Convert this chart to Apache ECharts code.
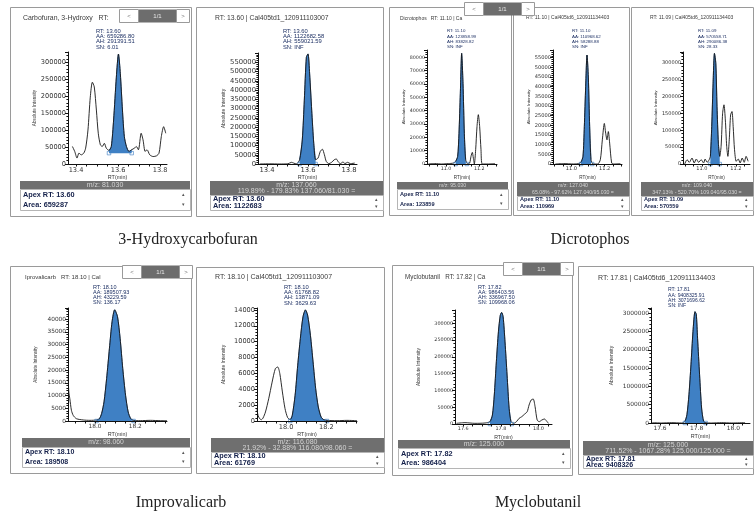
<!DOCTYPE html>
<html><head><meta charset="utf-8">
<script src="https://cdn.jsdelivr.net/npm/echarts@6/dist/echarts.min.js"></script>
<style>html,body{margin:0;padding:0;background:#fff}#c{width:754px;height:517px}</style>
</head><body><div id="c"></div>
<script>
// ---------- DATA ----------
const captions = ['3-Hydroxycarbofuran', 'Dicrotophos', 'Improvalicarb', 'Myclobutanil'];

const p1Time = [13.383,13.394,13.405,13.414,13.425,13.437,13.446,13.457,13.468,13.478,13.487,13.497,13.506,13.516,13.525,13.535,13.544,13.557,13.568,13.579,13.592,13.602,13.611,13.621,13.630,13.640,13.652,13.665,13.678,13.687,13.697,13.710,13.719,13.729,13.738,13.751,13.767,13.783,13.795,13.806,13.817,13.827];
const p1Int = [51600,37000,17500,32000,27000,32000,46700,100000,197000,241000,227000,159000,90600,56500,51600,61000,46700,40000,51600,129600,256000,324000,266000,159000,81000,51600,37000,42000,46700,51600,42000,90600,71000,37000,42000,27000,22000,24000,32000,81000,110000,90600];

const p2Time = [13.364,13.413,13.462,13.502,13.519,13.530,13.543,13.559,13.572,13.582,13.592,13.600,13.608,13.618,13.628,13.637,13.649,13.660,13.670,13.680,13.689,13.702,13.715,13.728,13.738,13.748,13.758,13.771,13.780,13.793,13.807,13.828];
const p2Int = [0,1000,0,1000,9000,5000,0,23000,130000,345000,577000,595000,487000,291000,112000,23000,32000,68000,80000,50000,14000,2000,9000,23000,27000,11000,2000,11000,2000,9000,2000,5000];

const p3Time = [10.894,10.934,10.974,11.014,11.044,11.058,11.070,11.078,11.086,11.094,11.102,11.110,11.118,11.130,11.142,11.150,11.158,11.164,11.170,11.178,11.186,11.194,11.202,11.210,11.218,11.254,11.294];
const p3Int = [0,300,0,300,700,2000,5700,23000,53000,83000,60500,23000,3200,0,700,5700,8700,4500,0,10700,28000,37000,28000,10700,0,0,300];

const p4Time = [10.904,10.954,11.014,11.044,11.058,11.070,11.078,11.086,11.094,11.102,11.110,11.118,11.130,11.158,11.174,11.186,11.198,11.206,11.214,11.222,11.230,11.242,11.254,11.294];
const p4Int = [0,200,0,200,900,4000,19400,40000,56400,45000,19400,2200,0,0,2200,12500,21000,16000,12500,16800,10800,500,0,200];

const p5Time = [10.899,10.913,10.926,10.942,10.955,10.967,10.981,10.996,11.010,11.019,11.031,11.043,11.050,11.058,11.066,11.074,11.082,11.089,11.097,11.105,11.113,11.122,11.130,11.138,11.146,11.153,11.161,11.169,11.177,11.184,11.192,11.202,11.214,11.225,11.237,11.249,11.260,11.272];
const p5Int = [0,12800,5000,17800,3000,14800,5000,12800,3000,14800,5000,12800,22700,111600,240000,329000,299000,171000,62000,22700,52000,151000,176000,131000,52000,22700,72000,146000,156000,111600,42500,8000,14800,3000,17800,5000,22700,8000];

const p6Time = [17.867,17.870,17.875,17.883,17.892,17.908,17.942,17.975,18.008,18.022,18.033,18.045,18.058,18.072,18.085,18.098,18.112,18.125,18.138,18.152,18.165,18.178,18.192,18.225,18.275,18.325,18.358];
const p6Int = [17400,11450,8800,4200,2200,900,400,260,400,900,2900,7500,16700,28600,39000,43700,41000,32500,20700,10100,3550,900,260,130,260,130,130];

const p7Time = [17.856,17.861,17.869,17.878,17.886,17.898,17.914,17.931,17.947,17.959,17.969,17.982,17.995,18.008,18.021,18.031,18.045,18.058,18.071,18.084,18.096,18.107,18.121,18.134,18.147,18.160,18.174,18.187,18.203,18.253,18.302,18.352];
const p7Int = [1470,720,300,170,380,1140,2800,4900,6600,6800,6000,3660,1560,420,170,720,3240,7030,10400,13100,14000,13350,10800,7450,4080,1770,500,170,80,40,80,40];

const p8Time = [17.564,17.609,17.662,17.716,17.742,17.755,17.765,17.776,17.787,17.797,17.804,17.812,17.822,17.833,17.844,17.854,17.868,17.883,17.897,17.911,17.925,17.940,17.950,17.961,17.972,17.982,17.993,18.004,18.018,18.032,18.043,18.053];
const p8Int = [2000,4000,2000,3000,7000,26800,86400,185700,275000,324700,332700,319700,245000,146000,46700,7000,2000,7000,16900,21800,28800,36700,56600,71500,74500,51600,11900,7000,11900,14900,8900,2000];

const p9Time = [17.558,17.609,17.664,17.718,17.736,17.747,17.758,17.769,17.780,17.791,17.798,17.805,17.816,17.827,17.838,17.849,17.882,17.936,17.991,18.064];
const p9Int = [9000,0,9000,0,45000,227000,773000,1591000,2500000,3045000,2973000,2318000,1318000,409000,45000,9000,0,9000,0,9000];

// peak integration windows [start, end, baseline]
const peakWindows = [[13.557,13.665,32000],[13.559,13.637,0],[11.058,11.125,0],[11.058,11.125,0],[11.050,11.105,0],[18.008,18.192,0],[18.021,18.203,0],[17.742,17.858,0],[17.736,17.849,0]];

const titles = ['Carbofuran, 3-Hydroxy   RT:', 'RT: 13.60 | Cal405td1_120911103007', 'Dicrotophos   RT: 11.10 | Ca', 'RT: 11.10 | Cal405td6_120911134403', 'RT: 11.09 | Cal405td6_120911134403', 'Iprovalicarb   RT: 18.10 | Cal', 'RT: 18.10 | Cal405td1_120911103007', 'Myclobutanil   RT: 17.82 | Ca', 'RT: 17.81 | Cal405td6_120911134403'];
const annotations = [
  ['RT: 13.60','AA: 659286.80','AH: 291391.51','SN: 6.01'],
  ['RT: 13.60','AA: 1122682.58','AH: 559021.59','SN: INF'],
  ['RT: 11.10','AA: 123858.99','AH: 83828.82','SN: INF'],
  ['RT: 11.10','AA: 110968.62','AH: 58288.88','SN: INF'],
  ['RT: 11.09','AA: 570558.71','AH: 290086.38','SN: 28.33'],
  ['RT: 18.10','AA: 189507.93','AH: 43229.59','SN: 136.17'],
  ['RT: 18.10','AA: 61768.82','AH: 13871.09','SN: 3629.63'],
  ['RT: 17.82','AA: 986403.56','AH: 336967.50','SN: 109968.06'],
  ['RT: 17.81','AA: 9408325.91','AH: 3071696.62','SN: INF']
];
const mzLabels = [
  ['m/z: 81.030'],
  ['m/z: 137.060','119.89% - 179.83% 137.060/81.030 ='],
  ['m/z: 95.030'],
  ['m/z: 127.040','65.08% - 97.62% 127.040/95.030 ='],
  ['m/z: 109.040','347.13% - 520.70% 109.040/95.030 ='],
  ['m/z: 98.060'],
  ['m/z: 116.080','21.92% - 32.88% 116.080/98.060 ='],
  ['m/z: 125.000'],
  ['m/z: 125.000','711.52% - 1067.28% 125.000/125.000 =']
];
const footers = [
  ['Apex RT: 13.60','Area: 659287'],
  ['Apex RT: 13.60','Area: 1122683'],
  ['Apex RT: 11.10','Area: 123859'],
  ['Apex RT: 11.10','Area: 110969'],
  ['Apex RT: 11.09','Area: 570559'],
  ['Apex RT: 18.10','Area: 189508'],
  ['Apex RT: 18.10','Area: 61769'],
  ['Apex RT: 17.82','Area: 986404'],
  ['Apex RT: 17.81','Area: 9408326']
];
const xTickLabels = [[13.4,13.6,13.8],[13.4,13.6,13.8],[11.0,11.2],[11.0,11.2],[11.0,11.2],[18.0,18.2],[18.0,18.2],[17.6,17.8,18.0],[17.6,17.8,18.0]];
const yTickStep = [50000,50000,10000,5000,50000,5000,2000,50000,500000];

const traces = [[p1Time,p1Int],[p2Time,p2Int],[p3Time,p3Int],[p4Time,p4Int],[p5Time,p5Int],[p6Time,p6Int],[p7Time,p7Int],[p8Time,p8Int],[p9Time,p9Int]];

// ---------- LAYOUT (pixels) ----------
const layout = [
  {L:68,R:167,T:52,B:164, xmin:13.362,xmax:13.833, ymax:330000, ygap:30, frame:[10,7,181,209], title:[23,18], ann:[96,31], mz:[20,181,170,8], foot:[20,189,170,21]},
  {L:258,R:357,T:53,B:164, xmin:13.356,xmax:13.839, ymax:600000, ygap:30, frame:[196,7,187,209], title:[215,18], ann:[283,31], mz:[210,181,173,14], foot:[210,195,173,15]},
  {L:427,R:497,T:50,B:164, xmin:10.886,xmax:11.306, ymax:85500, ygap:19, frame:[389,7,122,208], title:[400,19], ann:[447,31], mz:[397,182,111,7], foot:[397,189,111,20]},
  {L:553,R:622,T:50,B:164, xmin:10.890,xmax:11.304, ymax:59000, ygap:19, frame:[513,7,116,208], title:[526,18], ann:[572,31], mz:[517,182,112,14], foot:[517,196,112,14]},
  {L:683,R:750,T:52,B:164, xmin:10.889,xmax:11.283, ymax:333000, ygap:21, frame:[631,7,122,208], title:[650,18], ann:[698,31], mz:[641,182,112,14], foot:[641,196,112,14]},
  {L:68,R:167,T:308,B:421, xmin:17.866,xmax:18.358, ymax:44400, ygap:30, frame:[10,266,181,207], title:[25,277], ann:[93,287], mz:[22,438,168,9], foot:[22,447,168,20]},
  {L:257,R:357,T:308,B:421, xmin:17.856,xmax:18.352, ymax:14240, ygap:31, frame:[196,267,188,206], title:[215,277], ann:[284,287], mz:[211,438,173,14], foot:[211,452,173,15]},
  {L:455,R:552,T:310,B:424, xmin:17.556,xmax:18.072, ymax:340000, ygap:34, frame:[392,265,180,210], title:[405,277], ann:[478,287], mz:[398,440,172,8], foot:[398,448,172,20]},
  {L:651,R:750,T:308,B:423, xmin:17.551,xmax:18.091, ymax:3145000, ygap:37, frame:[578,266,175,208], title:[598,278], ann:[668,290], mz:[583,441,170,14], foot:[583,455,170,13]}
];
// font sizes per panel: tick, annotation, title, footer, m/z, y-name, x-name
const fonts = [
  {tick:6.6, ann:5.8, title:6.9, foot:7.3, mz:7.0, yname:4.6, xname:5.4},
  {tick:6.8, ann:5.8, title:6.8, foot:7.3, mz:7.0, yname:5.0, xname:5.4},
  {tick:4.8, ann:4.4, title:5.0, foot:5.6, mz:5.2, yname:4.4, xname:4.6},
  {tick:5.1, ann:4.4, title:5.0, foot:5.6, mz:5.2, yname:4.4, xname:4.6},
  {tick:5.0, ann:4.4, title:5.0, foot:5.6, mz:5.3, yname:4.4, xname:4.6},
  {tick:5.8, ann:5.5, title:6.0, foot:7.0, mz:6.8, yname:4.6, xname:5.4},
  {tick:6.6, ann:5.8, title:7.0, foot:7.3, mz:7.0, yname:5.0, xname:5.4},
  {tick:4.9, ann:5.5, title:6.3, foot:7.3, mz:7.0, yname:4.8, xname:5.2},
  {tick:5.9, ann:5.1, title:7.0, foot:7.0, mz:7.0, yname:5.0, xname:5.4}
];
const navBoxes = [[119,9],[464,2],[122,265],[503,262]];
const captionPos = [[188,240],[590,240],[181,503],[538,503]];

const FONT = 'Liberation Sans, Arial, sans-serif';
const TICKFONT = 'DejaVu Sans, sans-serif';
const grids = [], xAxes = [], yAxes = [], series = [], graphics = [];

function rect(x,y,w,h,fill,stroke,z){ graphics.push({type:'rect', z:z||1, shape:{x:x,y:y,width:w,height:h}, style:{fill:fill, stroke:stroke||null, lineWidth:1}, silent:true}); }
function txt(x,y,s,o){ o=o||{}; graphics.push({type:'text', z:o.z||5, x:x, y:y, silent:true, style:{text:s, fill:o.fill||'#333', fontSize:o.size||6, fontFamily:o.family||FONT, fontWeight:o.weight||'normal', align:o.align||'left', verticalAlign:o.va||'middle'}}); }

layout.forEach(function(g,i){
  const fs = fonts[i];
  const f = g.frame;
  rect(f[0]+0.5,f[1]+0.5,f[2],f[3],null,'#9a9a9a',0);
  txt(g.title[0], g.title[1], titles[i], {size:fs.title, fill:'#3a3a3a'});
  annotations[i].forEach(function(s,k){ txt(g.ann[0], g.ann[1]+k*5.3, s, {size:fs.ann, fill:'#1c2f63'}); });
  const m = g.mz;
  rect(m[0],m[1],m[2],m[3],'#6f6f6f',null,2);
  if (mzLabels[i].length === 1) {
    txt(m[0]+m[2]/2, m[1]+m[3]/2, mzLabels[i][0], {size:fs.mz, fill:'#d4d4d4', align:'center'});
  } else {
    txt(m[0]+m[2]/2, m[1]+3.6, mzLabels[i][0], {size:fs.mz, fill:'#d4d4d4', align:'center'});
    txt(m[0]+m[2]/2, m[1]+10.4, mzLabels[i][1], {size:fs.mz, fill:'#d4d4d4', align:'center'});
  }
  const o = g.foot;
  rect(o[0]+0.5,o[1]+0.5,o[2],o[3],'#fff','#b5b5b5',2);
  const h2 = o[3]/2;
  txt(o[0]+3, o[1]+h2*0.55, footers[i][0], {size:fs.foot, weight:'bold', fill:'#14204a'});
  txt(o[0]+3, o[1]+h2*1.5, footers[i][1], {size:fs.foot, weight:'bold', fill:'#14204a'});
  txt(o[0]+o[2]-7, o[1]+h2*0.55, '\u25B4', {size:5, fill:'#555', align:'center'});
  txt(o[0]+o[2]-7, o[1]+h2*1.5, '\u25BE', {size:5, fill:'#555', align:'center'});

  // chart
  grids.push({left:g.L, top:g.T, width:g.R-g.L, height:g.B-g.T, containLabel:false});
  const minorX = [];
  for (let v = Math.ceil(g.xmin/0.05)*0.05; v <= g.xmax + 1e-9; v += 0.05) minorX.push(Math.round(v*1000)/1000);
  xAxes.push({type:'value', gridIndex:i, min:g.xmin, max:g.xmax, z:10,
    name:'RT(min)', nameLocation:'middle', nameGap:11, nameTextStyle:{fontSize:fs.xname, color:'#333', fontFamily:FONT},
    axisLine:{show:true, onZero:false, lineStyle:{color:'#111', width:1}},
    axisTick:{show:true, customValues:minorX, length:2.5, lineStyle:{color:'#111'}},
    axisLabel:{show:true, customValues:xTickLabels[i], fontSize:fs.tick, color:'#333', margin:2.5, fontFamily:TICKFONT, formatter:function(v){return Number(v).toFixed(1);}},
    splitLine:{show:false}});
  yAxes.push({type:'value', gridIndex:i, min:0, max:g.ymax, interval:yTickStep[i], z:10,
    name:'Absolute Intensity', nameLocation:'middle', nameGap:g.ygap, nameTextStyle:{fontSize:fs.yname, color:'#333', fontFamily:FONT},
    axisLine:{show:true, onZero:false, lineStyle:{color:'#111', width:1}},
    axisTick:{show:true, length:3, lineStyle:{color:'#111'}},
    minorTick:{show:true, splitNumber:5, length:1.6, lineStyle:{color:'#111'}},
    axisLabel:{show:true, fontSize:fs.tick, color:'#333', margin:2, showMaxLabel:false, fontFamily:TICKFONT, formatter:function(v){return String(v);}},
    splitLine:{show:false}});

  const tr = traces[i];
  const line = tr[0].map(function(t,k){return [t, tr[1][k]];});
  const pw = peakWindows[i];
  const peak = line.filter(function(p){return p[0] >= pw[0]-1e-9 && p[0] <= pw[1]+1e-9;});
  series.push({type:'line', xAxisIndex:i, yAxisIndex:i, data:peak, showSymbol:false, smooth:0.25, silent:true, z:2,
    lineStyle:{color:'#2a5f9e', width:0.8},
    areaStyle:{color:'#3f80c4', opacity:1, origin:pw[2]}});
  series.push({type:'line', xAxisIndex:i, yAxisIndex:i, data:line, showSymbol:false, smooth:0.25, silent:true, z:3,
    lineStyle:{color:'#151515', width:0.9}});
  series.push({type:'scatter', xAxisIndex:i, yAxisIndex:i, data:[[pw[0],pw[2]],[pw[1],pw[2]]], symbol:'rect', symbolSize:3.5, silent:true, z:4,
    itemStyle:{color:'rgba(255,255,255,0)', borderColor:'#3f80c4', borderWidth:0.8}});
});

navBoxes.forEach(function(n){
  const x=n[0], y=n[1];
  rect(x+0.5,y+0.5,19,13,'#fff','#9a9a9a',6);
  txt(x+10,y+7,'<',{size:6,fill:'#777',align:'center',z:7});
  rect(x+20,y+0.5,37,13,'#6d6d6d',null,6);
  txt(x+38.5,y+7,'1/1',{size:6,fill:'#e8e8e8',align:'center',z:7});
  rect(x+57.5,y+0.5,13,13,'#fff','#9a9a9a',6);
  txt(x+64,y+7,'>',{size:6,fill:'#777',align:'center',z:7});
});
captions.forEach(function(c,i){
  txt(captionPos[i][0], captionPos[i][1], c, {size:16, family:'Liberation Serif, Times New Roman, serif', fill:'#222', align:'center'});
});

const chart = echarts.init(document.getElementById('c'), null, {renderer:'canvas'});
chart.setOption({animation:false, backgroundColor:'#fff', grid:grids, xAxis:xAxes, yAxis:yAxes, series:series, graphic:graphics});
</script></body></html>
